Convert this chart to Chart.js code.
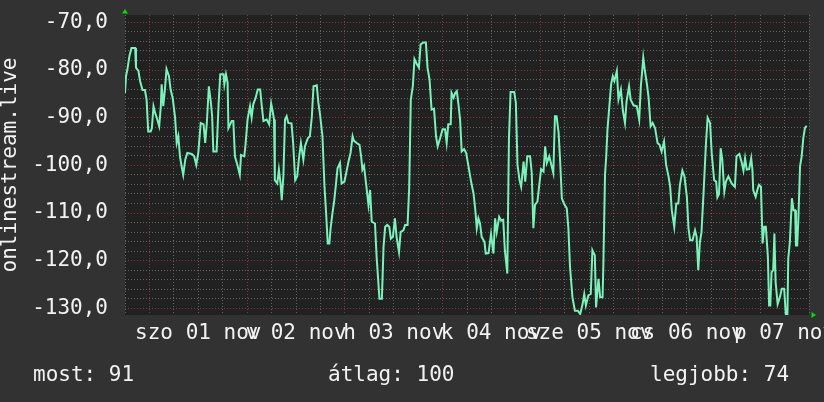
<!DOCTYPE html>
<html>
<head>
<meta charset="utf-8">
<script src="https://cdn.jsdelivr.net/npm/chart.js@4/dist/chart.umd.min.js"></script>
<style>
  html, body { margin: 0; padding: 0; background: #323232; }
  #wrap { width: 824px; height: 402px; position: relative; }
</style>
</head>
<body>
<div id="wrap"><canvas id="chart"></canvas></div>
<script>
// hours since the start of the graph (fri 31 nov 18:00) and the signal read at that moment
const hours = [
  0.0, 0.25, 0.6, 1.1, 1.6, 2.5, 2.7, 3.3, 3.7, 4.3, 4.9, 5.3, 5.7, 6.3, 6.6, 7.0, 7.4, 7.8, 8.4, 8.8,
  9.0, 9.4, 9.8, 10.2, 10.8, 11.2, 11.7, 12.3, 12.7, 13.1, 13.5, 13.9, 14.3, 14.8, 15.3, 16.4, 17.0, 17.5, 18.0, 18.6,
  19.3, 19.7, 20.1, 20.6, 21.1, 21.4, 21.7, 22.5, 23.0, 23.4, 24.2, 24.4, 24.8, 25.2, 25.4, 26.2, 26.6, 27.0, 27.6, 28.2,
  28.5, 29.3, 29.6, 30.1, 30.7, 31.1, 31.5, 32.1, 32.6, 33.2, 33.6, 34.0, 34.8, 35.4, 35.9, 36.2, 36.6, 36.8, 37.4, 37.8,
  38.2, 38.5, 38.9, 39.3, 39.7, 40.1, 40.9, 41.3, 41.8, 42.3, 42.7, 43.2, 43.8, 44.2, 44.9, 45.4, 45.9, 46.3, 47.1, 47.5,
  47.9, 48.5, 49.0, 49.4, 49.8, 50.2, 50.5, 50.9, 51.4, 51.8, 52.2, 52.8, 53.2, 53.9, 54.5, 54.9, 55.4, 55.9, 56.2, 56.9,
  57.6, 58.0, 58.3, 58.7, 59.2, 59.8, 60.2, 60.6, 61.4, 61.8, 62.5, 63.1, 63.5, 63.9, 64.4, 64.9, 65.3, 65.8, 66.3, 66.7,
  67.3, 67.7, 68.4, 68.8, 69.4, 69.8, 70.2, 70.7, 71.1, 71.7, 72.2, 72.6, 73.3, 73.9, 74.3, 74.8, 75.3, 75.9, 76.4, 76.8,
  77.4, 78.0, 78.6, 79.0, 79.4, 80.0, 80.2, 80.7, 81.1, 81.5, 81.9, 82.3, 82.7, 83.3, 83.8, 84.3, 85.0, 85.6, 86.0, 86.4,
  86.8, 87.2, 87.6, 88.3, 88.6, 89.3, 89.9, 90.5, 90.9, 91.3, 91.9, 92.4, 92.9, 93.3, 93.9, 94.3, 94.7, 95.6, 96.0, 96.4,
  96.9, 97.3, 97.9, 98.3, 98.8, 99.5, 99.9, 100.3, 100.7, 101.3, 101.7, 102.2, 102.8, 103.2, 103.6, 104.2, 104.6, 105.2, 105.6, 106.0,
  106.5, 106.9, 107.3, 107.8, 108.5, 108.9, 109.3, 109.9, 110.5, 111.2, 111.8, 112.4, 112.8, 113.2, 113.8, 114.4, 114.8, 115.4, 115.7, 116.3,
  116.7, 117.3, 117.5, 117.9, 118.2, 118.5, 119.0, 119.4, 119.8, 120.2, 120.8, 121.2, 121.8, 122.3, 122.8, 123.2, 123.8, 124.2, 124.9, 125.7,
  126.3, 126.7, 127.1, 127.3, 127.7, 128.2, 128.6, 129.1, 129.6, 130.2, 130.8, 131.3, 131.8, 132.4, 132.9, 133.5, 133.9, 134.3, 134.9, 135.4,
  135.9, 136.3, 136.9, 137.4, 138.0, 138.4, 138.8, 139.4, 140.0, 140.4, 140.8, 141.2, 141.6, 142.2, 142.7, 143.1, 143.7, 144.1, 144.7, 145.2,
  145.5, 145.9, 146.3, 146.7, 147.2, 147.6, 148.2, 149.0, 149.8, 150.2, 150.9, 151.5, 151.9, 152.3, 152.7, 153.3, 153.8, 154.1, 154.3, 154.9,
  155.3, 155.7, 156.2, 156.6, 157.0, 157.4, 157.9, 158.2, 158.5, 158.8, 159.2, 159.5, 159.8, 160.3, 160.9, 161.3, 161.9, 162.3, 162.7, 162.9,
  163.3, 163.8, 164.2, 164.6, 164.8, 165.1, 165.4, 165.8, 166.2, 166.6, 167.0, 167.4
];
const signal = [
  -84.8, -81.3, -79.8, -77.0, -75.4, -75.4, -79.5, -80.2, -82.3, -84.2, -84.2, -86.2, -92.9, -92.9, -92.2, -87.6, -89.0, -90.0, -91.8, -87.6,
  -83.0, -87.6, -84.1, -79.8, -81.3, -84.1, -85.8, -90.0, -95.3, -93.9, -98.1, -100.2, -102.0, -98.8, -97.4, -97.6, -98.1, -99.9, -97.4, -91.1,
  -91.4, -95.3, -91.1, -83.4, -86.9, -89.7, -97.1, -97.1, -86.9, -80.9, -80.9, -83.0, -80.9, -82.7, -92.2, -90.7, -90.7, -98.1, -99.9, -102.0,
  -97.8, -98.1, -95.7, -90.4, -87.6, -90.0, -87.2, -85.8, -84.1, -84.1, -87.6, -90.7, -90.4, -91.4, -87.0, -88.3, -90.4, -103.1, -103.8, -100.9,
  -103.8, -107.3, -102.3, -90.4, -89.7, -91.1, -91.2, -95.3, -103.1, -102.3, -98.8, -95.3, -98.8, -96.0, -94.3, -93.9, -89.7, -83.4, -83.2, -86.9,
  -89.3, -93.9, -104.5, -110.1, -116.4, -116.4, -113.2, -110.4, -107.3, -104.1, -100.6, -99.5, -103.8, -103.4, -100.9, -99.2, -97.4, -93.9, -94.8, -95.3,
  -95.7, -98.1, -100.9, -100.1, -103.8, -108.3, -105.2, -111.8, -112.2, -119.2, -128.0, -128.0, -117.1, -112.9, -112.5, -112.9, -115.4, -115.0, -111.1, -115.0,
  -118.2, -114.0, -113.6, -112.5, -112.5, -104.8, -86.2, -83.4, -77.7, -78.8, -79.5, -74.6, -74.2, -74.2, -79.5, -82.0, -88.3, -88.1, -93.9, -96.0,
  -94.3, -92.4, -92.4, -95.3, -91.4, -91.4, -84.8, -85.8, -84.8, -84.4, -87.2, -90.4, -97.1, -96.6, -97.4, -99.9, -103.4, -105.9, -109.0, -113.2,
  -111.1, -112.2, -115.0, -116.1, -118.5, -118.4, -114.4, -118.5, -111.1, -114.0, -110.8, -111.6, -111.4, -117.8, -122.7, -94.6, -84.6, -84.6, -86.9, -99.9,
  -103.1, -104.5, -99.2, -103.4, -98.1, -98.1, -101.6, -113.2, -108.3, -107.6, -104.5, -100.8, -101.3, -96.0, -99.5, -98.1, -99.5, -101.6, -89.7, -89.7,
  -93.2, -99.5, -106.9, -108.0, -109.0, -113.2, -121.3, -127.7, -130.5, -130.5, -131.2, -129.1, -127.0, -129.4, -127.3, -127.0, -117.8, -118.9, -129.8, -123.8,
  -127.7, -127.7, -120.6, -102.0, -98.1, -92.5, -87.2, -83.0, -81.3, -82.3, -80.2, -86.2, -84.1, -88.6, -91.1, -86.5, -83.4, -86.2, -87.4, -87.6,
  -90.4, -83.4, -79.5, -77.4, -80.2, -83.0, -85.8, -91.8, -91.1, -92.2, -95.3, -95.7, -97.1, -95.0, -99.9, -102.3, -104.5, -109.4, -112.9, -108.0,
  -108.0, -104.1, -101.1, -102.3, -106.6, -113.2, -115.7, -115.7, -113.6, -115.0, -122.0, -116.1, -114.0, -104.1, -95.3, -90.0, -91.1, -97.4, -103.1, -103.4,
  -106.7, -106.0, -96.4, -98.8, -105.5, -103.4, -102.3, -103.8, -104.5, -98.1, -97.6, -99.5, -101.1, -98.5, -100.9, -100.8, -98.5, -100.9, -105.2, -106.6,
  -105.2, -104.1, -104.5, -116.4, -112.9, -112.9, -119.2, -129.4, -129.4, -122.4, -122.0, -114.3, -124.5, -129.1, -127.5, -125.9, -125.9, -131.2, -131.2, -119.6,
  -116.1, -106.9, -109.4, -109.4, -116.8, -116.8, -111.1, -100.2, -98.1, -94.3, -92.2, -91.7
];

// day labels, each one sits on noon of its day
const dayLabels = ["szo 01 nov", "v 02 nov", "h 03 nov", "k 04 nov", "sze 05 nov", "cs 06 nov", "p 07 nov"];
const yLabelValues = [-130, -120, -110, -100, -90, -80, -70];
const axisTitle = "onlinestream.live";
const legendItems = ["most: 91", "átlag: 100", "legjobb: 74"];

const MONO = "'DejaVu Sans Mono', monospace";
const TEXT = "#f2f2f2";
const GRID_MINOR = "rgba(120,120,120,0.75)";
const GRID_MAJOR = "rgba(150,55,55,0.9)";

const rrdLook = {
  id: "rrdLook",
  beforeDraw(chart) {
    const { ctx, chartArea: a } = chart;
    ctx.save();
    ctx.fillStyle = "#323232";
    ctx.fillRect(0, 0, chart.width, chart.height);
    ctx.fillStyle = "#212121";
    ctx.fillRect(a.left, a.top, a.right - a.left, a.bottom - a.top);
    ctx.restore();
  },
  afterDraw(chart) {
    const { ctx, chartArea: a } = chart;
    ctx.save();
    // little green arrows at the axis ends
    ctx.fillStyle = "#00dd00";
    ctx.beginPath();
    ctx.moveTo(a.left, a.top - 6);
    ctx.lineTo(a.left - 3, a.top - 1.5);
    ctx.lineTo(a.left + 3, a.top - 1.5);
    ctx.fill();
    ctx.beginPath();
    ctx.moveTo(a.right + 7, a.bottom);
    ctx.lineTo(a.right + 2.5, a.bottom - 3);
    ctx.lineTo(a.right + 2.5, a.bottom + 3);
    ctx.fill();
    // legend line under the graph
    ctx.fillStyle = TEXT;
    ctx.font = "21px " + MONO;
    ctx.textBaseline = "alphabetic";
    const xs = [33, 328, 650];
    legendItems.forEach((t, i) => ctx.fillText(t, xs[i], 381));
    ctx.restore();
  }
};

new Chart(document.getElementById("chart"), {
  type: "line",
  data: {
    datasets: [{
      data: hours.map((h, i) => ({ x: h, y: signal[i] })),
      borderColor: "#7af2ba",
      borderWidth: 2,
      pointRadius: 0,
      tension: 0,
      fill: false
    }]
  },
  options: {
    responsive: true,
    maintainAspectRatio: false,
    animation: false,
    events: [],
    layout: { padding: { left: 0, right: 15, top: 15, bottom: 0 } },
    plugins: { legend: { display: false }, tooltip: { enabled: false } },
    scales: {
      x: {
        type: "linear",
        min: 0,
        max: 168,
        afterBuildTicks(scale) {
          const t = [];
          for (let v = 0; v <= 168; v += 6) t.push({ value: v });
          scale.ticks = t;
        },
        afterFit(scale) {
          scale.height = 87;
          scale.paddingLeft = 0;
          scale.paddingRight = 0;
        },
        grid: {
          drawTicks: false,
          lineWidth: 1,
          color: (c) => (c.tick && c.tick.value % 24 === 6 ? GRID_MAJOR : GRID_MINOR)
        },
        border: { display: false, dash: [1, 2] },
        ticks: {
          autoSkip: false,
          maxRotation: 0,
          minRotation: 0,
          padding: 6,
          color: TEXT,
          font: { family: MONO, size: 21 },
          callback: (v) => ((v - 18) % 24 === 0 ? dayLabels[(v - 18) / 24] : "")
        }
      },
      y: {
        min: -131.4,
        max: -68.45,
        afterBuildTicks(scale) {
          const t = [];
          for (let v = -130; v <= -70; v += 2) t.push({ value: v });
          scale.ticks = t;
        },
        afterFit(scale) {
          scale.width = 125;
          scale.paddingTop = 0;
          scale.paddingBottom = 0;
        },
        grid: {
          drawTicks: false,
          lineWidth: 1,
          color: (c) => (c.tick && c.tick.value % 10 === 0 ? GRID_MAJOR : GRID_MINOR)
        },
        border: { display: false, dash: [1, 2] },
        title: {
          display: true,
          text: axisTitle,
          color: TEXT,
          padding: { top: 0, bottom: 0 },
          font: { family: MONO, size: 21, lineHeight: 1 }
        },
        ticks: {
          autoSkip: false,
          padding: 17,
          color: TEXT,
          font: { family: MONO, size: 21 },
          callback: (v) => (yLabelValues.includes(v) ? v.toFixed(1).replace(".", ",") : "")
        }
      }
    }
  },
  plugins: [rrdLook]
});
</script>
</body>
</html>
